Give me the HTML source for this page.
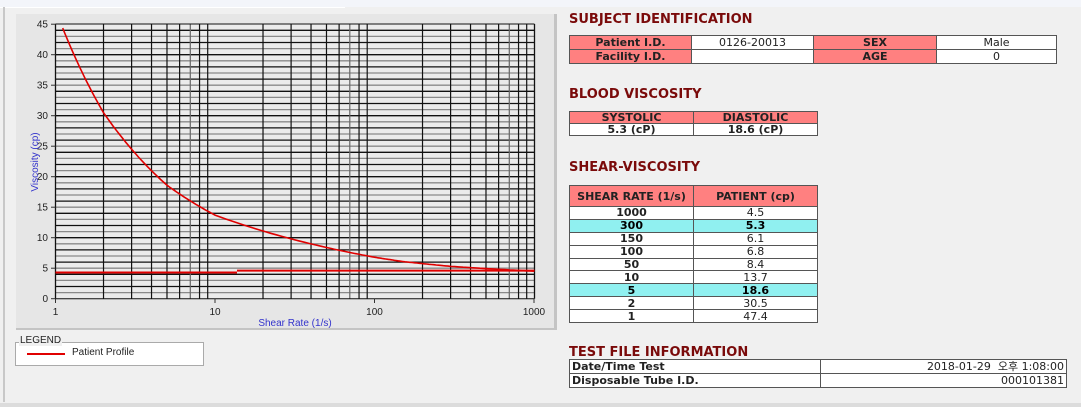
<!DOCTYPE html>
<html><head><meta charset="utf-8"><style>
body{margin:0;width:1081px;height:407px;background:#f0f0f0;position:relative;overflow:hidden;font-family:"Liberation Sans","Noto Sans CJK KR",sans-serif}
.abs{position:absolute}
.t{position:absolute;color:#7a0a0a;font:bold 13px "DejaVu Sans",sans-serif;letter-spacing:0}
table{position:absolute;border-collapse:collapse;font:11px "DejaVu Sans","Noto Sans CJK KR",sans-serif}
td{padding:0;text-align:center;border:1px solid #555;line-height:12px;height:13px}
.sv td{height:11.9px;line-height:11px}
.p{background:#ff8080;font-weight:bold;color:#222}
.w{background:#fff;color:#222}
.c{background:#90f0f0;font-weight:bold}
.b{font-weight:bold}
</style></head><body>
<div class="abs" style="left:0;top:0;width:1081px;height:7px;background:#f3f5fa"></div>
<div class="abs" style="left:0;top:7px;width:345px;height:1px;background:#fff"></div>
<div class="abs" style="left:3px;top:7px;width:2px;height:395px;background:#c8c8c8"></div>
<div class="abs" style="left:0;top:403px;width:1081px;height:4px;background:#dcdcdc"></div>
<div class="abs" style="left:16px;top:14px;width:538px;height:314px;background:#e6e6e6;border-right:3px solid #c4c4c4;border-bottom:2px solid #c4c4c4"></div>
<svg class="abs" style="left:0;top:0" width="560" height="340" id="s"></svg>
<script>
(function(){
var s=document.getElementById('s'),h='';
var X=function(v){return 55.5+159.5*Math.log10(v)},Y=function(v){return 298.7-6.1*v};
h+='<rect x="55.5" y="24" width="479" height="274.7" fill="#ebebeb"/>';
for(var v=1;v<45;v++){h+='<line x1="55.5" x2="534.5" y1="'+Y(v)+'" y2="'+Y(v)+'" stroke="'+(v%2?'#8a8a8a':'#111')+'" stroke-width="1.3"/>';}
for(var d=0;d<3;d++)for(var k=2;k<=9;k++){var x=X(Math.pow(10,d)*k);h+='<line y1="24" y2="298.7" x1="'+x+'" x2="'+x+'" stroke="'+(k==7?'#666':'#111')+'" stroke-width="1.2"/>';}
h+='<line x1="55.5" x2="55.5" y1="24" y2="298.7" stroke="#111" stroke-width="1.3"/><line x1="534.5" x2="534.5" y1="24" y2="298.7" stroke="#111" stroke-width="1.3"/><line x1="55.5" x2="534.5" y1="24" y2="24" stroke="#111"/><line x1="55.5" x2="534.5" y1="298.7" y2="298.7" stroke="#111"/>';
for(var t=0;t<=45;t+=5){h+='<line x1="51" x2="55.5" y1="'+Y(t)+'" y2="'+Y(t)+'" stroke="#333"/><text x="48" y="'+(Y(t)+3.5)+'" font-size="10" text-anchor="end" fill="#222" font-family="Liberation Sans">'+t+'</text>';}
[1,10,100,1000].forEach(function(q){var x=X(q);h+='<line x1="'+x+'" x2="'+x+'" y1="298.7" y2="303" stroke="#333"/><text x="'+x+'" y="315" font-size="10" text-anchor="middle" fill="#222" font-family="Liberation Sans">'+q+'</text>';});
h+='<text x="295" y="326" font-size="10" text-anchor="middle" fill="#3333cc" font-family="Liberation Sans">Shear Rate (1/s)</text>';
h+='<text transform="translate(38,162) rotate(-90)" font-size="10" text-anchor="middle" fill="#3333cc" font-family="Liberation Sans">Viscosity (cp)</text>';
var S=[1,2,5,10,50,100,150,300,1000],V=[47.4,30.5,18.6,13.7,8.4,6.8,6.1,5.3,4.5],pts=[];
for(var i=0;i<S.length-1;i++){var e=Math.log(V[i+1]/V[i])/Math.log(S[i+1]/S[i]);for(var j=0;j<20;j++){var sv=S[i]*Math.pow(S[i+1]/S[i],j/20),vv=V[i]*Math.pow(sv/S[i],e);if(vv<=45.2)pts.push(X(sv).toFixed(1)+','+Y(vv).toFixed(1));}}
pts.push(X(1000)+','+Y(4.5));
h+='<polyline fill="none" stroke="#e00000" stroke-width="1.6" points="'+pts.join(' ')+'"/>';
h+='<line x1="55.5" x2="237" y1="272.5" y2="272.5" stroke="#e00000" stroke-width="2"/><line x1="237" x2="534.5" y1="270.6" y2="270.6" stroke="#e00000" stroke-width="2"/>';
s.innerHTML=h;})();
</script>
<div class="abs" style="left:15px;top:342px;width:187px;height:22px;border:1px solid #aaa;background:#fff"></div>
<div class="abs" style="left:19px;top:335px;font-size:10px;background:#f0f0f0;padding:0 1px;color:#222">LEGEND</div>
<div class="abs" style="left:27px;top:353px;width:38px;height:2px;background:#e00000"></div>
<div class="abs" style="left:72px;top:347px;font-size:10px;color:#222">Patient Profile</div>

<div class="t" style="left:569px;top:12px">SUBJECT IDENTIFICATION</div>
<table style="left:569px;top:35px;width:488px"><tr><td class="p" style="width:121px">Patient I.D.</td><td class="w" style="width:121px">0126-20013</td><td class="p" style="width:122px">SEX</td><td class="w">Male</td></tr><tr><td class="p">Facility I.D.</td><td class="w"></td><td class="p">AGE</td><td class="w">0</td></tr></table>
<div class="t" style="left:569px;top:87px">BLOOD VISCOSITY</div>
<table style="left:569px;top:111px;width:249px"><tr><td class="p" style="width:123px;height:11px;line-height:11px">SYSTOLIC</td><td class="p" style="height:11px;line-height:11px">DIASTOLIC</td></tr><tr><td class="w b" style="height:11px;line-height:11px">5.3 (cP)</td><td class="w b" style="height:11px;line-height:11px">18.6 (cP)</td></tr></table>
<div class="t" style="left:569px;top:160px">SHEAR-VISCOSITY</div>
<table class="sv" style="left:569px;top:185px;width:249px">
<tr><td class="p" style="width:123px;height:20px">SHEAR RATE (1/s)</td><td class="p" style="height:20px">PATIENT (cp)</td></tr>
<tr><td class="w b">1000</td><td class="w">4.5</td></tr>
<tr><td class="c">300</td><td class="c">5.3</td></tr>
<tr><td class="w b">150</td><td class="w">6.1</td></tr>
<tr><td class="w b">100</td><td class="w">6.8</td></tr>
<tr><td class="w b">50</td><td class="w">8.4</td></tr>
<tr><td class="w b">10</td><td class="w">13.7</td></tr>
<tr><td class="c">5</td><td class="c">18.6</td></tr>
<tr><td class="w b">2</td><td class="w">30.5</td></tr>
<tr><td class="w b">1</td><td class="w">47.4</td></tr></table>
<div class="t" style="left:569px;top:345px">TEST FILE INFORMATION</div>
<table style="left:569px;top:359px;width:498px"><tr><td class="w b" style="width:248px;text-align:left;padding-left:2px">Date/Time Test</td><td class="w" style="text-align:right;padding-right:2px">2018-01-29 &nbsp;오후 1:08:00</td></tr><tr><td class="w b" style="text-align:left;padding-left:2px">Disposable Tube I.D.</td><td class="w" style="text-align:right;padding-right:2px">000101381</td></tr></table>
</body></html>
